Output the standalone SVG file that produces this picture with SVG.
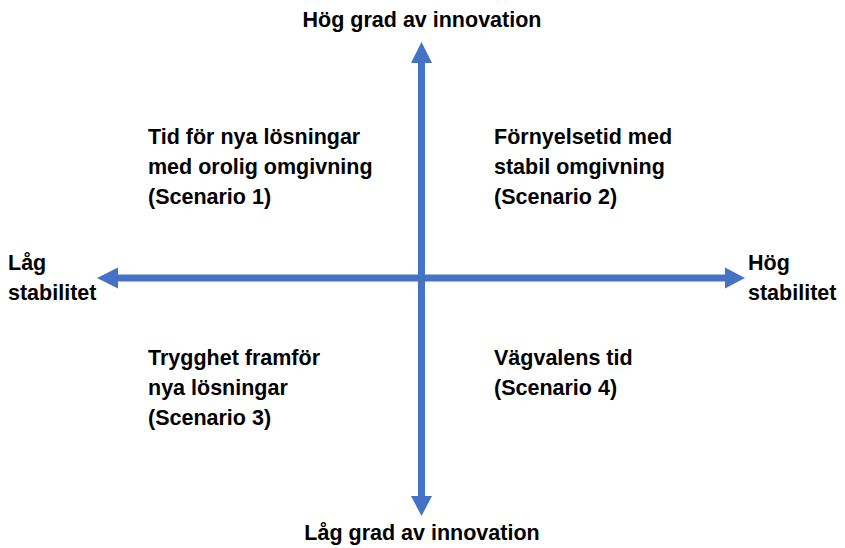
<svg xmlns="http://www.w3.org/2000/svg" width="845" height="548" viewBox="0 0 845 548">
<style>
text{font-family:"Liberation Sans",Arial,sans-serif;font-weight:bold;font-size:21.5px;fill:#000}
.ax{stroke:#4472C4;stroke-width:7;fill:none}
.hd{fill:#4472C4}
</style>
<rect width="845" height="548" fill="#fff"/>
<g id="connectors">
<line class="ax" x1="421.5" y1="62" x2="421.5" y2="497"/>
<polygon class="hd" points="421.5,42 432,63 411,63"/>
<polygon class="hd" points="421.5,516 432,496 411,496"/>
<line class="ax" x1="117" y1="278" x2="726" y2="278"/>
<polygon class="hd" points="97,278 118,267.5 118,288.5"/>
<polygon class="hd" points="745,278 725,267.5 725,288.5"/>
</g>
<g id="top"><text x="422" y="27" text-anchor="middle">Hög grad av innovation</text></g>
<g id="bottom"><text x="422" y="540" text-anchor="middle">Låg grad av innovation</text></g>
<g id="left"><text x="8" y="270">Låg</text><text x="8" y="300">stabilitet</text></g>
<g id="right"><text x="748" y="270">Hög</text><text x="748" y="300">stabilitet</text></g>
<g id="q1"><text x="148" y="144">Tid för nya lösningar</text><text x="148" y="174">med orolig omgivning</text><text x="148" y="204">(Scenario 1)</text></g>
<g id="q2"><text x="494" y="144">Förnyelsetid med</text><text x="494" y="174">stabil omgivning</text><text x="494" y="204">(Scenario 2)</text></g>
<g id="q3"><text x="148" y="365">Trygghet framför</text><text x="148" y="395">nya lösningar</text><text x="148" y="425">(Scenario 3)</text></g>
<g id="q4"><text x="494" y="365">Vägvalens tid</text><text x="494" y="395">(Scenario 4)</text></g>
</svg>
